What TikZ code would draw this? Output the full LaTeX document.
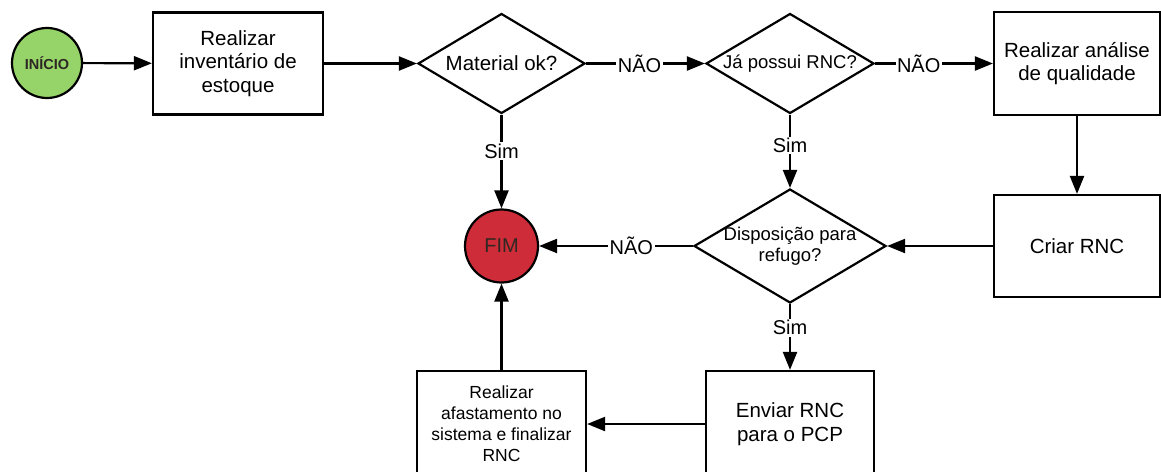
\documentclass[tikz,border=0pt]{standalone}
\usepackage{fontspec}
\setmainfont{Liberation Sans}
\usetikzlibrary{shapes.geometric,arrows.meta}
\definecolor{startgreen}{RGB}{150,212,105}
\definecolor{endred}{RGB}{206,44,56}
\definecolor{termtext}{RGB}{45,40,35}
\begin{document}
\begin{tikzpicture}[x=1pt,y=-1pt,
  proc/.style={draw, rectangle, line width=2.2pt, inner sep=0pt, align=center,
               font=\fontsize{20.5}{23.5}\selectfont},
  dec/.style={draw, diamond, line width=2.2pt, inner sep=0pt},
  dtext/.style={align=center, inner sep=0pt, font=\fontsize{18.5}{21}\selectfont},
  term/.style={draw, circle, line width=2.2pt, inner sep=0pt, text=termtext},
  flow/.style={line width=2.2pt, -{Triangle[length=18pt,width=14pt]}},
  lbl/.style={fill=white, inner sep=1.5pt, font=\fontsize{20}{22}\selectfont}]
\useasboundingbox (0,0) rectangle (1161,471);
\clip (0,0) rectangle (1161,471);

% terminals
\node[term, fill=startgreen, minimum size=70pt, font=\bfseries\fontsize{14.5}{17}\selectfont]
  (inicio) at (47,63) {INÍCIO};
\node[term, fill=endred, minimum size=73pt, font=\fontsize{20}{21}\selectfont]
  (fim) at (501.5,246) {FIM};

% process boxes
\node[proc, minimum width=170pt, minimum height=102pt] (inv) at (238,63.5)
  {Realizar\\inventário de\\estoque};
\node[proc, minimum width=166pt, minimum height=103pt] (anal) at (1077,63.5)
  {Realizar análise\\de qualidade};
\node[proc, minimum width=166pt, minimum height=102pt] (criar) at (1077,246)
  {Criar RNC};
\node[proc, minimum width=168pt, minimum height=106pt] (enviar) at (790,424)
  {Enviar RNC\\para o PCP};
\node[proc, minimum width=169pt, minimum height=106pt,
      font=\fontsize{17.5}{21}\selectfont] (afast) at (501.5,424)
  {Realizar\\afastamento no\\sistema e finalizar\\RNC};

% decisions: fixed-size diamonds with their questions set on top
\node[dec, minimum width=167pt, minimum height=100pt] (mat) at (501.5,63.5) {};
\node[dtext, font=\fontsize{20.5}{23}\selectfont] (mat-q) at (mat) {Material ok?};
\node[dec, minimum width=168pt, minimum height=100pt] (ja) at (790,63.5) {};
\node[dtext] (ja-q) at (ja) {Já possui RNC?};
\node[dec, minimum width=192pt, minimum height=114pt] (disp) at (790,246) {};
\node[dtext] (disp-q) at (disp) {Disposição para\\refugo?};

% connectors
\draw[flow] (inicio) -- (inv);
\draw[flow] (inv) -- (mat);
\draw[flow] (mat) -- node[lbl, pos=0.45] {NÃO} (ja);
\draw[flow] (ja) -- node[lbl, pos=0.37] {NÃO} (anal);
\draw[flow] (mat) -- node[lbl, pos=0.39] {Sim} (fim);
\draw[flow] (ja) -- node[lbl, pos=0.42] {Sim} (disp);
\draw[flow] (anal) -- (criar);
\draw[flow] (criar) -- (disp);
\draw[flow] (disp) -- node[lbl, pos=0.4] {NÃO} (fim);
\draw[flow] (disp) -- node[lbl, pos=0.36] {Sim} (enviar);
\draw[flow] (enviar) -- (afast);
\draw[flow] (afast) -- (fim);
\end{tikzpicture}
\end{document}
